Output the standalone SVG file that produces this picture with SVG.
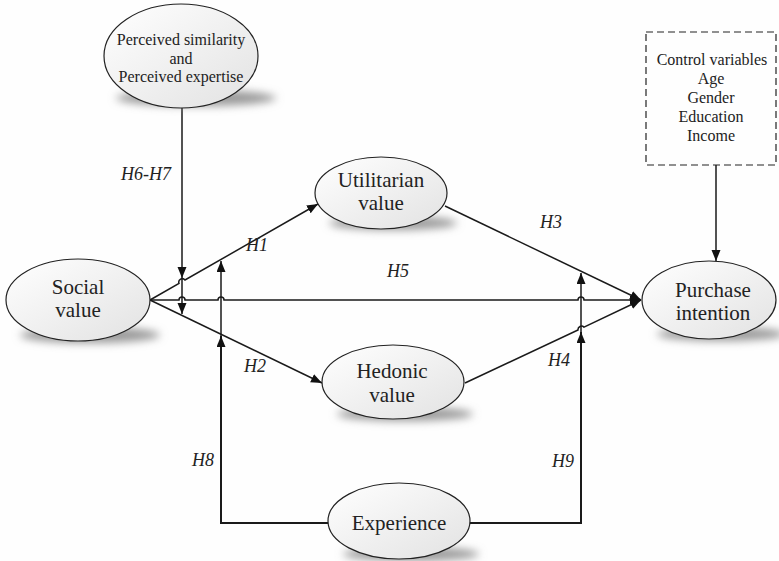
<svg xmlns="http://www.w3.org/2000/svg" width="779" height="561" viewBox="0 0 779 561" font-family="'Liberation Serif', 'Times New Roman', Times, serif">
<defs>
<linearGradient id="g" x1="0" y1="0" x2="1" y2="1">
<stop offset="0" stop-color="#ffffff"/>
<stop offset="1" stop-color="#e2e2e2"/>
</linearGradient>
<filter id="blur" x="-20%" y="-100%" width="140%" height="300%">
<feGaussianBlur stdDeviation="4"/>
</filter>
<marker id="ah" markerUnits="userSpaceOnUse" markerWidth="12" markerHeight="10" refX="11" refY="4.5" orient="auto">
<polygon points="0,0 11,4.5 0,9" fill="#111"/>
</marker>
<style>
.node{fill:url(#g);stroke:#222;stroke-width:1.2}
.sh{fill:#9a9a9a;filter:url(#blur)}
.t{fill:#222;text-anchor:middle}
.big{font-size:21px}
.small{font-size:16px}
.lab{font-style:italic;font-size:18px;fill:#222}
.c{fill:none;stroke:#1a1a1a;stroke-width:1.5}
.cb{fill:none;stroke:#1a1a1a;stroke-width:2}
.a{marker-end:url(#ah)}
</style>
</defs>
<rect width="779" height="561" fill="#fefefe"/>

<g id="connectors">
<path class="c a" d="M182,108 L182,278"/>
<path class="c a" d="M182,278 L182,314"/>
<path class="c a" d="M150,300 L179,283.4 A3.5,3.5 0 0 1 185,280 L318,204"/>
<path class="c a" d="M150,300 L322,383"/>
<path class="c a" d="M150,300 L179,300 A3,3 0 0 1 185,300 L218,300 A3,3 0 0 1 224,300 L578,300 A3,3 0 0 1 584,300 L641,300"/>
<path class="c a" d="M445,206 L641,300"/>
<path class="c a" d="M465,383 L578,330 A3.5,3.5 0 0 1 584,327.2 L641,300"/>
<path class="cb a" d="M328,523 L221,523 L221,336"/>
<path class="c a" d="M221,336 L221,261"/>
<path class="cb a" d="M470,523 L581,523 L581,332"/>
<path class="c a" d="M581,332 L581,273"/>
<path class="c a" d="M716,165 L716,261"/>
</g>

<g id="labels">
<text class="lab" x="121" y="180">H6-H7</text>
<text class="lab" x="246" y="251">H1</text>
<text class="lab" x="387" y="277">H5</text>
<text class="lab" x="540" y="228">H3</text>
<text class="lab" x="244" y="372">H2</text>
<text class="lab" x="548" y="366">H4</text>
<text class="lab" x="192" y="466">H8</text>
<text class="lab" x="552" y="467">H9</text>
</g>

<g id="perceived">
<ellipse class="sh" cx="196" cy="98" rx="80" ry="8"/>
<ellipse class="node" cx="181" cy="56" rx="77" ry="52"/>
<text class="t small" x="181" y="45">Perceived similarity</text>
<text class="t small" x="181" y="63.5">and</text>
<text class="t small" x="181" y="82">Perceived expertise</text>
</g>

<g id="control">
<rect x="646" y="32" width="130" height="133" fill="none" stroke="#222" stroke-width="1.2" stroke-dasharray="7,4"/>
<text class="t small" x="712" y="65">Control variables</text>
<text class="t small" x="711" y="84">Age</text>
<text class="t small" x="711" y="103">Gender</text>
<text class="t small" x="711" y="122">Education</text>
<text class="t small" x="711" y="141">Income</text>
</g>

<g id="social">
<ellipse class="sh" cx="90" cy="335" rx="70" ry="8"/>
<ellipse class="node" cx="78" cy="300" rx="72" ry="41"/>
<text class="t big" x="78" y="294">Social</text>
<text class="t big" x="78" y="317">value</text>
</g>

<g id="utilitarian">
<ellipse class="sh" cx="393" cy="223" rx="64" ry="7"/>
<ellipse class="node" cx="381" cy="193" rx="66" ry="36"/>
<text class="t big" x="381" y="187">Utilitarian</text>
<text class="t big" x="381" y="210">value</text>
</g>

<g id="hedonic">
<ellipse class="sh" cx="405" cy="414" rx="68" ry="7"/>
<ellipse class="node" cx="393" cy="382" rx="71" ry="37"/>
<text class="t big" x="392" y="378">Hedonic</text>
<text class="t big" x="392" y="402">value</text>
</g>

<g id="purchase">
<ellipse class="sh" cx="721" cy="334" rx="64" ry="7"/>
<ellipse class="node" cx="709" cy="300" rx="67" ry="39"/>
<text class="t big" x="713" y="297">Purchase</text>
<text class="t big" x="713" y="320">intention</text>
</g>

<g id="experience">
<ellipse class="sh" cx="411" cy="554" rx="68" ry="7"/>
<ellipse class="node" cx="399" cy="521" rx="71" ry="38"/>
<text class="t big" x="399" y="530">Experience</text>
</g>
</svg>
